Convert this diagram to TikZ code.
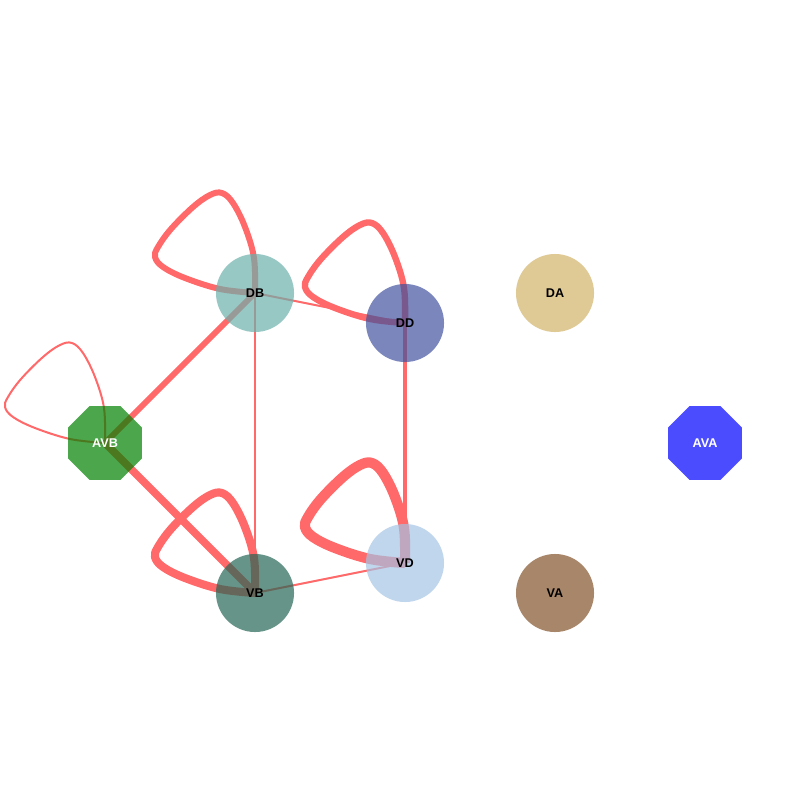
\documentclass[tikz,border=0pt]{standalone}
\usepackage{fontspec}
\setmainfont{Liberation Sans}
\usetikzlibrary{shapes.geometric}
\pgfdeclarelayer{bg}
\pgfsetlayers{bg,main}
\definecolor{edgecol}{RGB}{255,105,105}
\definecolor{cDB}{RGB}{108,176,171}
\definecolor{cDD}{RGB}{65,82,159}
\definecolor{cDA}{RGB}{209,178,104}
\definecolor{cAVB}{RGB}{0,128,0}
\definecolor{cAVA}{RGB}{0,0,255}
\definecolor{cVD}{RGB}{165,196,228}
\definecolor{cVB}{RGB}{38,102,85}
\definecolor{cVA}{RGB}{131,82,42}
\tikzset{
  nd/.style={circle, minimum size=0.78cm, inner sep=0pt, draw=none, fill opacity=0.7, text opacity=1,
    font=\fontsize{3.6}{4}\selectfont\bfseries},
  oct/.style={regular polygon, regular polygon sides=8, minimum size=0.8cm, inner sep=0pt, draw=none,
    fill opacity=0.7, text opacity=1, text=white, font=\fontsize{3.6}{4}\selectfont\bfseries},
  edge/.style={draw=edgecol, line cap=butt, line join=round},
}
\newcommand{\selfloop}[2]{%
  \draw[edge, line width=#2, shift={(#1.center)}] plot[smooth, tension=0.6] coordinates
  {(0,0) (-1,-35) (-10,-66) (-22,-90) (-33,-100) (-45,-98) (-62,-86) (-84,-64) (-97,-46) (-100,-36) (-92,-26) (-70,-15) (-35,-4) (0,0)};}
\begin{document}
\begin{tikzpicture}[x=0.01cm, y=-0.01cm]
\useasboundingbox (0,0) rectangle (800,800);
\node[nd, fill=cDB] (DB) at (255,293) {DB};
\node[nd, fill=cDD] (DD) at (405,323) {DD};
\node[nd, fill=cDA] (DA) at (555,293) {DA};
\node[oct, fill=cAVB] (AVB) at (105,443) {AVB};
\node[oct, fill=cAVA] (AVA) at (705,443) {AVA};
\node[nd, fill=cVD] (VD) at (405,563) {VD};
\node[nd, fill=cVB] (VB) at (255,593) {VB};
\node[nd, fill=cVA] (VA) at (555,593) {VA};
\begin{pgfonlayer}{bg}
  \draw[edge, line width=1.7pt] (DB.center) -- (AVB.center);
  \draw[edge, line width=2.2pt] (AVB.center) -- (VB.center);
  \draw[edge, line width=0.57pt] (DB.center) -- (VB.center);
  \draw[edge, line width=0.57pt] (DB.center) -- (DD.center);
  \draw[edge, line width=1.3pt] (DD.center) -- (VD.center);
  \draw[edge, line width=0.57pt] (VB.center) -- (VD.center);
  \selfloop{DB}{1.7pt}
  \selfloop{DD}{1.8pt}
  \selfloop{AVB}{0.57pt}
  \selfloop{VB}{2.3pt}
  \selfloop{VD}{2.9pt}
\end{pgfonlayer}
\end{tikzpicture}
\end{document}
